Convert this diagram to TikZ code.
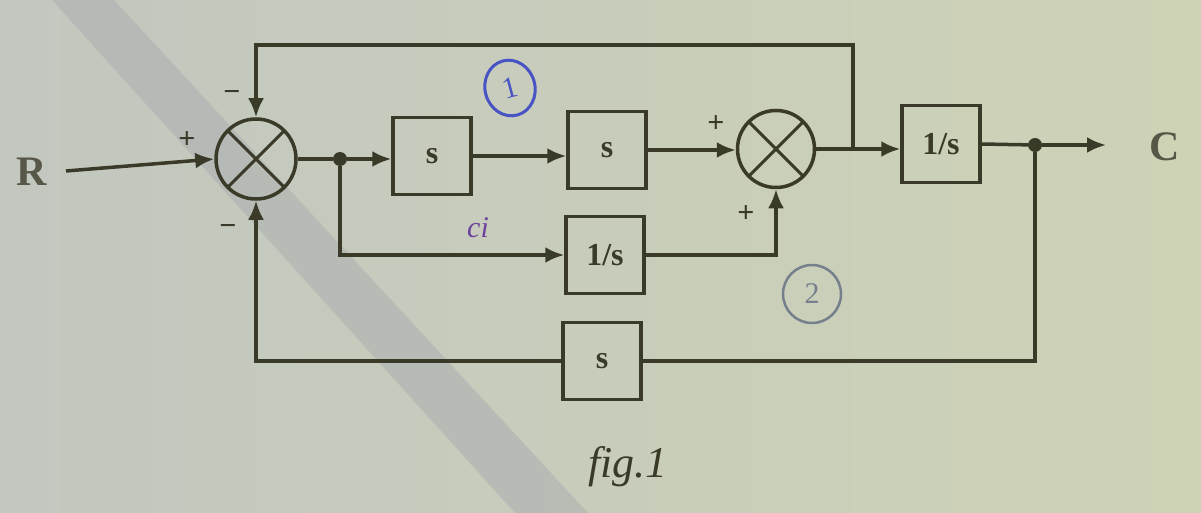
\documentclass[tikz,border=0pt]{standalone}
\usepackage{fontspec}
\setmainfont{Liberation Serif}
\usetikzlibrary{arrows.meta,shapes.geometric}
\definecolor{bgl}{RGB}{194,199,192}
\definecolor{bgr}{RGB}{206,211,182}
\definecolor{band}{RGB}{176,179,178}
\definecolor{ink}{RGB}{58,58,40}
\definecolor{pen}{RGB}{72,84,196}
\definecolor{pencil}{RGB}{118,128,140}
\begin{document}
\begin{tikzpicture}[x=1pt,y=-1pt,
  blk/.style={draw=ink, line width=3.5pt, minimum width=78pt, minimum height=77pt, inner sep=0pt,
    font=\bfseries\fontsize{32}{32}\selectfont, text=ink},
  sumj/.style={draw=ink, circle, line width=3.5pt, minimum size=80pt, inner sep=0pt,
    path picture={\draw[ink,line width=3pt]
      (path picture bounding box.north west) -- (path picture bounding box.south east)
      (path picture bounding box.north east) -- (path picture bounding box.south west);}},
  ln/.style={draw=ink, line width=3.5pt},
  arr/.style={ln, -{Latex[length=19pt,width=16pt]}},
  dot/.style={circle, fill=ink, inner sep=0pt, minimum size=14pt},
  sgn/.style={text=ink, font=\bfseries\fontsize{30}{30}\selectfont, inner sep=0pt},
  lbl/.style={text=ink!85, font=\bfseries\fontsize{42}{42}\selectfont, inner sep=0pt}]
% background
\useasboundingbox (0,0) rectangle (1201,513);
\shade[left color=bgl, right color=bgr] (0,0) rectangle (1201,513);
\fill[band, opacity=0.65] (52,0) -- (114,0) -- (588,513) -- (515,513) -- cycle;
% blocks
\node[sumj] (S1) at (256,159) {};
\node[blk] (B1) at (432,156) {s};
\node[blk] (B2) at (607,150) {s};
\node[sumj, minimum size=77pt] (S2) at (776,149) {};
\node[blk] (B3) at (605,255) {1/s};
\node[blk] (B4) at (941,144) {1/s};
\node[blk] (B5) at (602,361) {s};
% labels
\node[lbl] (R) at (32,172) {R};
\node[lbl] (C) at (1165,147) {C};
\coordinate (Rin) at (66,171);
\node[dot] (J1) at (340,159) {};
\node[dot] (J2) at (1035,145) {};
\coordinate (J3) at (853,149);
\coordinate (Ttop) at (853,45);
\coordinate (Cend) at (1106,145);
% connectors
\draw[arr] (Rin) -- (S1.west);
\draw[ln] (S1.east) -- (J1);
\draw[arr] (J1) -- (J1 -| B1.west);
\draw[arr] (B1.east) -- (B1.east -| B2.west);
\draw[arr] (B2.east) -- (B2.east -| S2.west);
\draw[ln] (S2.east) -- (J3);
\draw[arr] (J3) -- (J3 -| B4.west);
\draw[ln] (B4.east) -- (J2);
\draw[arr] (J2) -- (Cend);
\draw[arr] (J1) |- (B3.west);
\draw[arr] (B3.east) -| (S2.south);
\draw[arr] (J3) -- (Ttop) -| (S1.north);
\draw[ln] (J2) |- (B5.east);
\draw[arr] (B5.west) -| (S1.south);
% signs
\node[sgn] (p1) at (187,140) {+};
\node[sgn] (m1) at (232,96) {\textminus};
\node[sgn] (m2) at (228,230) {\textminus};
\node[sgn] (p2) at (716,124) {+};
\node[sgn] (p3) at (746,214) {+};
% handwritten annotations
\node[draw=pen, line width=3pt, ellipse, minimum width=50pt, minimum height=56pt, inner sep=0pt,
  text=pen, font=\fontsize{30}{30}\selectfont, rotate=15] (c1) at (510,88) {1};
\node[draw=pencil, line width=2.5pt, circle, minimum size=58pt, inner sep=0pt,
  text=pencil, font=\fontsize{30}{30}\selectfont] (c2) at (812,294) {2};
\node[text=pen!80!red, font=\itshape\fontsize{30}{30}\selectfont] (ci) at (478,228) {ci};
\node[text=ink, font=\itshape\fontsize{44}{44}\selectfont] (fig) at (628,467) {fig.1};
\end{tikzpicture}
\end{document}
